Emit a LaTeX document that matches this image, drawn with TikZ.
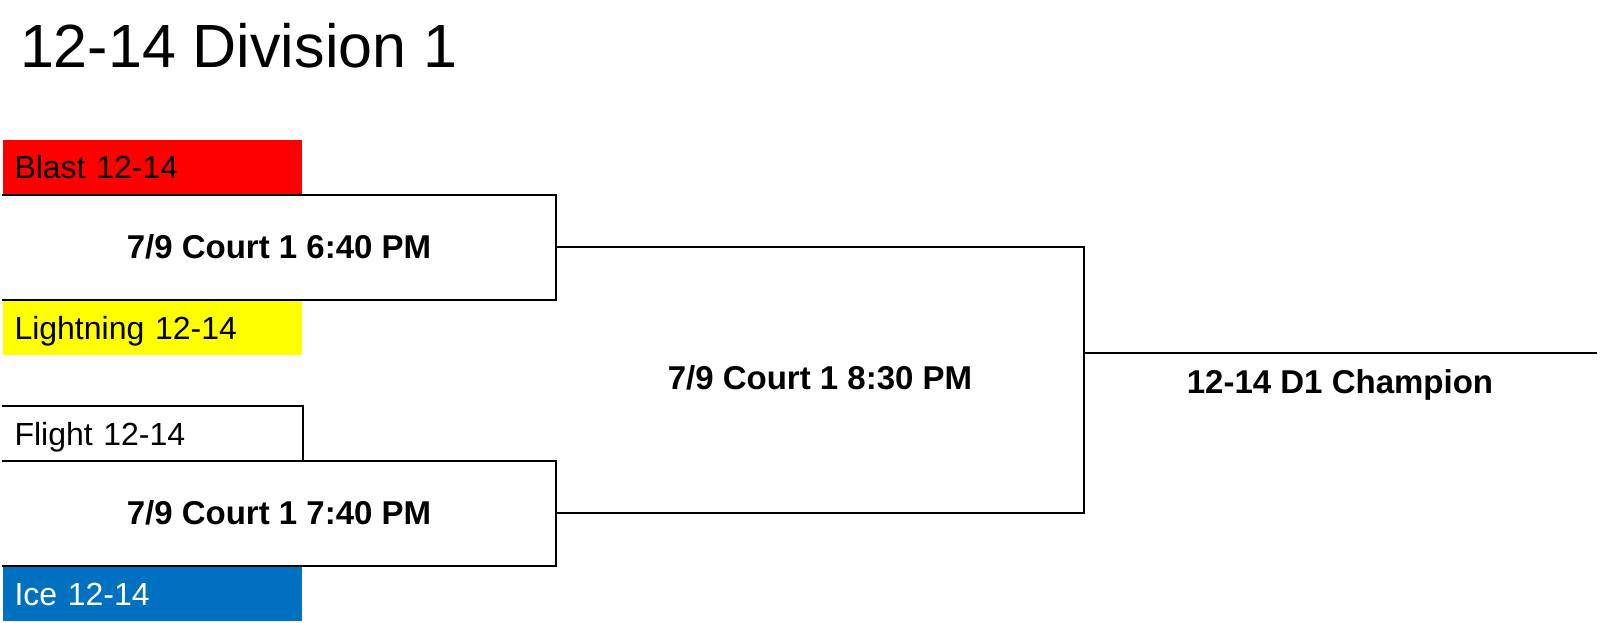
\documentclass[tikz,border=0pt]{standalone}
\usepackage{fontspec}
\setmainfont{Liberation Sans}
\definecolor{teamred}{HTML}{FF0000}
\definecolor{teamyellow}{HTML}{FFFF00}
\definecolor{teamblue}{HTML}{0070C0}
\begin{document}
\begin{tikzpicture}
[x=1pt,y=-1pt,line width=2pt,
team/.style = {rectangle, anchor=north west, minimum height=54pt, text width=276pt, inner xsep=11.5pt, inner ysep=0pt, align=left, text height=23pt, text depth=0pt, font=\fontsize{32}{38}\selectfont},
game/.style = {inner sep=0pt, text height=23.5pt, text depth=0pt, font=\bfseries\fontsize{33}{39}\selectfont},]

\useasboundingbox (0,0) rectangle (1600,623);
\node (title) at (19,68)[anchor=base west, inner sep=0pt, font=\fontsize{61}{70}\selectfont] {12-14 Division 1};

\node (blast) at (2,139)[team, fill=teamred] {Blast 12-14};
\node (light) at (2,300)[team, fill=teamyellow] {Lightning 12-14};
\node (flight) at (2,406)[team, minimum height=53pt] {Flight 12-14};
\node (ice) at (2,566)[team, fill=teamblue, text=white] {Ice 12-14};

\coordinate (g1r) at (556,246.5);
\coordinate (g2r) at (556,512.5);
\coordinate (fin) at (1084,379);
\coordinate (champ) at (1084,353);
\coordinate (champend) at (1597,353);

\node (g1) at (279,246.5)[game] {7/9 Court 1 6:40 PM};
\node (g2) at (279,512.5)[game] {7/9 Court 1 7:40 PM};
\node (g3) at (820,378)[game] {7/9 Court 1 8:30 PM};
\node (winner) at (1340,381.5)[game] {12-14 D1 Champion};

\draw (flight.north west)--(flight.north east)--(flight.south east);
\draw (blast.south west) -| (g1r) |- (light.north west);
\draw (flight.south west) -| (g2r) |- (ice.north west);
\draw (g1r) -| (fin) |- (g2r);
\draw (champ)--(champend);
\end{tikzpicture}
\end{document}
